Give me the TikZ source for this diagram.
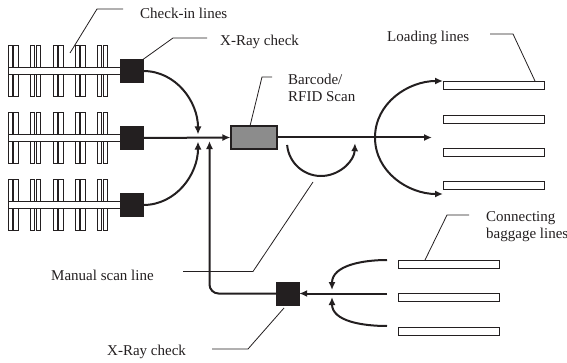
\documentclass[tikz,border=0pt]{standalone}
\usepackage{fontspec}
\setmainfont{Liberation Serif}
\usetikzlibrary{arrows.meta}
\definecolor{ink}{HTML}{231F20}
\begin{document}
\begin{tikzpicture}[x=1pt,y=1pt,
  flow/.style={line width=2pt,draw=ink},
  arr/.style={flow,-{Latex[length=8pt,width=7pt]}},
  leader/.style={line width=0.8pt,draw=ink},
  lbl/.style={inner sep=0pt,anchor=west,font=\fontsize{15}{16.5}\selectfont,text=ink,align=left},
  xray/.style={fill=ink,draw=ink,minimum width=23pt,minimum height=23pt,inner sep=0pt},
  belt/.style={draw=ink,fill=white,line width=0.8pt},
  scan/.style={fill=black!45,draw=ink,line width=1.2pt,minimum width=46pt,minimum height=23pt,inner sep=0pt}]
\useasboundingbox (0,0) rectangle (567,362);
% check-in lines
\foreach \yc in {291,224,157}{
  \foreach \bx in {8,30.5,53,75,97.5}{
    \foreach \dx in {0,5.6}{
      \draw[belt] (\bx+\dx,\yc+3.5) rectangle ++(4.3,22);
      \draw[belt] (\bx+\dx,\yc-3.5) rectangle ++(4.3,-22);
    }
  }
  \draw[belt] (8,\yc-3.5) rectangle (121,\yc+3.5);
}
\node[xray] (xr1) at (131.5,291) {};
\node[xray] (xr2) at (131.5,224) {};
\node[xray] (xr3) at (131.5,157) {};
\node[scan] (bc) at (254,224.5) {};
\node[xray] (xrb) at (287.5,68.5) {};
% loading lines
\foreach \n/\yc in {1/276.5,2/242.5,3/209.5,4/176.5}{
  \node[belt,minimum width=101pt,minimum height=7.5pt,inner sep=0pt] (ld\n) at (493.5,\yc) {};
}
% connecting baggage lines
\foreach \n/\yc in {1/98,2/65,3/31}{
  \node[belt,minimum width=101pt,minimum height=8pt,inner sep=0pt] (cb\n) at (448.5,\yc) {};
}
% junction coordinates
\coordinate (jtop) at (198,227.5);
\coordinate (jbot) at (198,220.5);
\coordinate (vtip) at (209.5,221);
\coordinate (lmain) at (432,224.5);
\coordinate (ltop) at (443,281);
\coordinate (lleft) at (375,224.5);
\coordinate (lbot) at (443,168);
\coordinate (cmain) at (387,68.5);
\coordinate (ctop) at (387,102);
\coordinate (cbot) at (387,36);
\coordinate (cjt) at (332,72);
\coordinate (cjb) at (332,65);
% flows
\draw[arr] (xr1.east) to[out=0,in=90] (jtop);
\draw[arr] (xr3.east) to[out=0,in=-90] (jbot);
\draw[arr] (xr2.east) -- (bc.west);
\draw[arr,rounded corners=9pt] (xrb.west) -| (vtip);
\draw[arr] (bc.east) -- (lmain);
\draw[flow,{Latex[length=8pt,width=7pt]}-{Latex[length=8pt,width=7pt]}] (ltop) to[out=180,in=90] (lleft) to[out=-90,in=180] (lbot);
\draw[arr] (cmain) -- (xrb.east);
\draw[arr] (ctop) to[out=180,in=90] (cjt);
\draw[arr] (cbot) to[out=180,in=-90] (cjb);
\draw[arr] (321,220) ++(185:34) arc[start angle=185,end angle=358,radius=34] coordinate (mstip);
% labels
\node[lbl] (tcheck) at (140,349) {Check-in lines};
\node[lbl] (txr1) at (220,320) {X-Ray check};
\node[lbl] (tbc) at (288,274) {Barcode/\\RFID Scan};
\node[lbl] (tload) at (387,324) {Loading lines};
\node[lbl] (tconn) at (486,135.5) {Connecting\\baggage lines};
\node[lbl] (tman) at (51,87) {Manual scan line};
\node[lbl] (txr2) at (107,10) {X-Ray check};
% leaders
\coordinate (a1) at (70,309); \coordinate (a2) at (97,353); \coordinate (a3) at (123,353);
\draw[leader] (a1) -- (a2) -- (a3);
\coordinate (b2) at (173,324); \coordinate (b3) at (207,324);
\draw[leader] (xr1.north east) -- (b2) -- (b3);
\coordinate (c1) at (250,236); \coordinate (c2) at (262,285); \coordinate (c3) at (272,285);
\draw[leader] (c1) -- (c2) -- (c3);
\coordinate (d1) at (535,281); \coordinate (d2) at (513,328); \coordinate (d3) at (490,328);
\draw[leader] (d1) -- (d2) -- (d3);
\coordinate (e1) at (425,102); \coordinate (e2) at (447,147); \coordinate (e3) at (469,147);
\draw[leader] (e1) -- (e2) -- (e3);
\coordinate (f1) at (313,180); \coordinate (f2) at (253,90.5); \coordinate (f3) at (183,90.5);
\draw[leader] (f1) -- (f2) -- (f3);
\coordinate (g1) at (284,54); \coordinate (g2) at (248,13); \coordinate (g3) at (212,13);
\draw[leader] (g1) -- (g2) -- (g3);
\end{tikzpicture}
\end{document}
